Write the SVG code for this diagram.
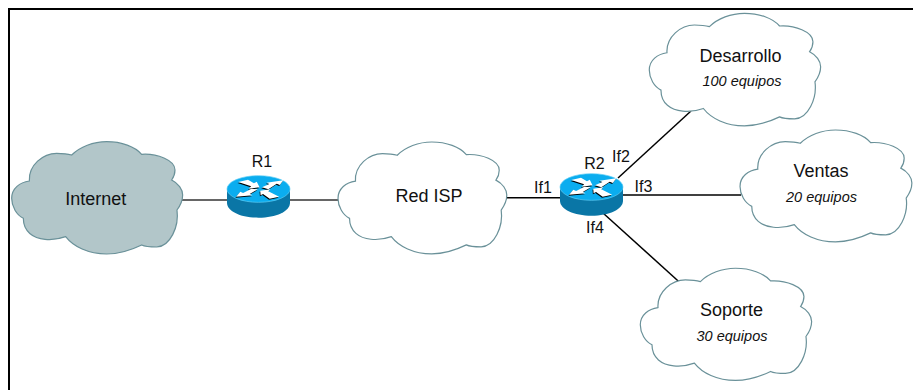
<svg xmlns="http://www.w3.org/2000/svg" xmlns:xlink="http://www.w3.org/1999/xlink" width="913" height="390" viewBox="0 0 913 390">
<style>
text{font-family:"Liberation Sans",Arial,sans-serif;fill:#111}
.t{font-size:18px}
.s{font-size:16px}
.i{font-size:14.5px;font-style:italic}
.cl{fill:#fff;stroke:#6a9199;stroke-width:1.2}
.c{fill:none;stroke:#000;stroke-width:1.5}
.g{stroke:#333}
</style>
<defs>
<path id="cloud" vector-effect="non-scaling-stroke" d="M35,235C35,205 60,187 88,183C85,135 130,100 170,100C188,100 205,102 215,105C240,80 280,65 320,65C365,65 405,80 425,103C470,100 525,120 525,150C525,165 520,173 515,180C535,190 548,208 548,225C548,245 540,258 531,270C538,320 510,380 470,381C450,381 435,380 425,375C390,392 355,402 320,402C265,402 220,380 197,350C175,358 155,360 135,358C100,355 70,335 70,295C50,285 35,260 35,235Z"/>
<g id="arrows">
<polygon points="52,36 80,29 97,40 105,35 113,52 82,56 89,49"/>
<polygon points="120,52 141,42 133,38 181,31 171,45 162,41 138,58"/>
<polygon points="108,58 85,72 93,76 46,80 58,65 66,69 90,56"/>
<polygon points="115,62 144,58 138,64 169,80 142,86 123,72 116,76"/>
</g>
<g id="router" transform="scale(.35,.3333)">
<path d="M20,57V98C20,124 60,143 110,143C160,143 200,124 200,98V57Z" fill="#0a76a6"/>
<ellipse cx="110" cy="57" rx="90" ry="40" fill="#0badef" stroke="#5fcdf5" stroke-width="2"/>
<use xlink:href="#arrows" href="#arrows" fill="#000" transform="translate(-2,3)"/>
<use xlink:href="#arrows" href="#arrows" fill="#fff"/>
</g>
</defs>
<rect width="913" height="390" fill="#fff"/>
<path d="M9,390V9H913" fill="none" stroke="#000" stroke-width="2"/>
<g id="connectors">
<path class="c g" d="M182,200H227"/>
<path class="c g" d="M290,200H338"/>
<path class="c" d="M503,197.700H560"/>
<path class="c" d="M618,178L691,111"/>
<path class="c" d="M623,195H741"/>
<path class="c" d="M603,213L679,281.700"/>
</g>
<g id="internet">
<use xlink:href="#cloud" href="#cloud" class="cl" style="fill:#b2c6c9" transform="translate(0,120) scale(.3333)"/>
<text class="t" x="95.800" y="205" text-anchor="middle">Internet</text>
</g>
<g id="r1">
<use xlink:href="#router" href="#router" transform="translate(220,170)"/>
<text class="s" x="262" y="167" text-anchor="middle">R1</text>
</g>
<g id="red-isp">
<use xlink:href="#cloud" href="#cloud" class="cl" transform="translate(326.500,120.400) scale(.329,.332)"/>
<text class="t" x="429" y="201.700" text-anchor="middle">Red ISP</text>
</g>
<g id="r2">
<use xlink:href="#router" href="#router" transform="translate(553,168)"/>
<text class="s" x="594.500" y="169.300" text-anchor="middle">R2</text>
<text class="s" x="543" y="192.700" text-anchor="middle">If1</text>
<text class="s" x="621" y="162" text-anchor="middle">If2</text>
<text class="s" x="643.500" y="191.700" text-anchor="middle">If3</text>
<text class="s" x="595" y="233" text-anchor="middle">If4</text>
</g>
<g id="desarrollo">
<use xlink:href="#cloud" href="#cloud" class="cl" transform="translate(637.600,-8.400) scale(.334)"/>
<text class="t" x="740.500" y="61.700" text-anchor="middle">Desarrollo</text>
<text class="i" x="742" y="86" text-anchor="middle">100 equipos</text>
</g>
<g id="ventas">
<use xlink:href="#cloud" href="#cloud" class="cl" transform="translate(728.300,108.400) scale(.335,.332)"/>
<text class="t" x="821" y="176.700" text-anchor="middle">Ventas</text>
<text class="i" x="821.500" y="201.700" text-anchor="middle">20 equipos</text>
</g>
<g id="soporte">
<use xlink:href="#cloud" href="#cloud" class="cl" transform="translate(628.600,246.600) scale(.334,.333)"/>
<text class="t" x="731.500" y="316" text-anchor="middle">Soporte</text>
<text class="i" x="732" y="341" text-anchor="middle">30 equipos</text>
</g>
</svg>
